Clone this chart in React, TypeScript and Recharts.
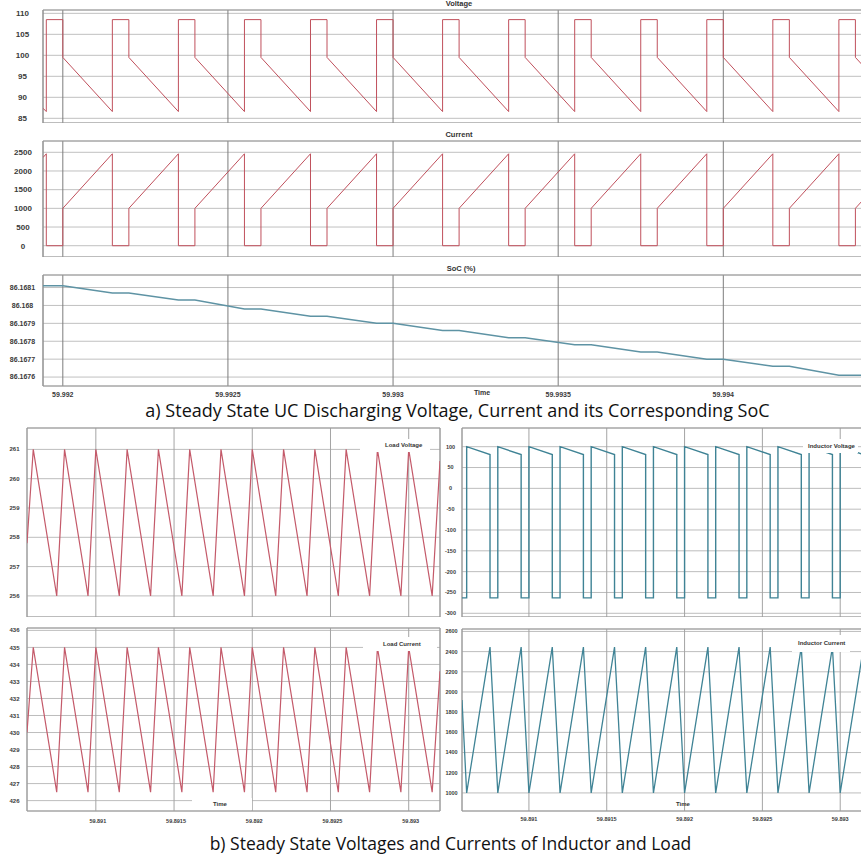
import React from "react";
import { LineChart, Line, XAxis, YAxis, CartesianGrid, ReferenceArea } from "recharts";

type Pt = [number, number];

// ---------- (a) top panels: UC discharging ----------
const topTimeTicks = [59.992, 59.9925, 59.993, 59.9935, 59.994];
const topTimeLabels = ["59.992", "59.9925", "59.993", "59.9935", "59.994"];

const voltageTicks = [85, 90, 95, 100, 105, 110];
const voltageLabels = ["85", "90", "95", "100", "105", "110"];
const voltagePoints: Pt[] = [
  [59.99194, 87.4],
  [59.99195, 86.6], [59.99195, 108.5], [59.992, 108.5], [59.992, 99.5],
  [59.99215, 86.6], [59.99215, 108.5], [59.9922, 108.5], [59.9922, 99.5],
  [59.99235, 86.6], [59.99235, 108.5], [59.9924, 108.5], [59.9924, 99.5],
  [59.99255, 86.6], [59.99255, 108.5], [59.9926, 108.5], [59.9926, 99.5],
  [59.99275, 86.6], [59.99275, 108.5], [59.9928, 108.5], [59.9928, 99.5],
  [59.99295, 86.6], [59.99295, 108.5], [59.993, 108.5], [59.993, 99.5],
  [59.99315, 86.6], [59.99315, 108.5], [59.9932, 108.5], [59.9932, 99.5],
  [59.99335, 86.6], [59.99335, 108.5], [59.9934, 108.5], [59.9934, 99.5],
  [59.99355, 86.6], [59.99355, 108.5], [59.9936, 108.5], [59.9936, 99.5],
  [59.99375, 86.6], [59.99375, 108.5], [59.9938, 108.5], [59.9938, 99.5],
  [59.99395, 86.6], [59.99395, 108.5], [59.994, 108.5], [59.994, 99.5],
  [59.99415, 86.6], [59.99415, 108.5], [59.9942, 108.5], [59.9942, 99.5],
  [59.99435, 86.6], [59.99435, 108.5], [59.9944, 108.5], [59.9944, 99.5],
  [59.99442, 97.8],
];

const currentTicks = [0, 500, 1000, 1500, 2000, 2500];
const currentLabels = ["0", "500", "1000", "1500", "2000", "2500"];
const currentPoints: Pt[] = [
  [59.99194, 2360],
  [59.99195, 2460], [59.99195, 0], [59.992, 0], [59.992, 1000],
  [59.99215, 2460], [59.99215, 0], [59.9922, 0], [59.9922, 1000],
  [59.99235, 2460], [59.99235, 0], [59.9924, 0], [59.9924, 1000],
  [59.99255, 2460], [59.99255, 0], [59.9926, 0], [59.9926, 1000],
  [59.99275, 2460], [59.99275, 0], [59.9928, 0], [59.9928, 1000],
  [59.99295, 2460], [59.99295, 0], [59.993, 0], [59.993, 1000],
  [59.99315, 2460], [59.99315, 0], [59.9932, 0], [59.9932, 1000],
  [59.99335, 2460], [59.99335, 0], [59.9934, 0], [59.9934, 1000],
  [59.99355, 2460], [59.99355, 0], [59.9936, 0], [59.9936, 1000],
  [59.99375, 2460], [59.99375, 0], [59.9938, 0], [59.9938, 1000],
  [59.99395, 2460], [59.99395, 0], [59.994, 0], [59.994, 1000],
  [59.99415, 2460], [59.99415, 0], [59.9942, 0], [59.9942, 1000],
  [59.99435, 2460], [59.99435, 0], [59.9944, 0], [59.9944, 1000],
  [59.99442, 1195],
];

const socTicks = [86.1676, 86.1677, 86.1678, 86.1679, 86.168, 86.1681];
const socLabels = ["86.1676", "86.1677", "86.1678", "86.1679", "86.168", "86.1681"];
const socPoints: Pt[] = [
  [59.99194, 86.16811], [59.992, 86.16811],
  [59.99215, 86.16807], [59.9922, 86.16807],
  [59.99235, 86.16803], [59.9924, 86.16803],
  [59.99255, 86.16798], [59.9926, 86.16798],
  [59.99275, 86.16794], [59.9928, 86.16794],
  [59.99295, 86.1679], [59.993, 86.1679],
  [59.99315, 86.16786], [59.9932, 86.16786],
  [59.99335, 86.16782], [59.9934, 86.16782],
  [59.99355, 86.16778], [59.9936, 86.16778],
  [59.99375, 86.16774], [59.9938, 86.16774],
  [59.99395, 86.1677], [59.994, 86.1677],
  [59.99415, 86.16766], [59.9942, 86.16766],
  [59.99435, 86.16761], [59.99442, 86.16761],
];

// ---------- (b) bottom panels: inductor and load ----------
const bottomTimeTicks = [59.891, 59.8915, 59.892, 59.8925, 59.893];
const bottomTimeLabels = ["59.891", "59.8915", "59.892", "59.8925", "59.893"];

const loadVoltageTicks = [256, 257, 258, 259, 260, 261];
const loadVoltageLabels = ["256", "257", "258", "259", "260", "261"];
const loadVoltagePoints: Pt[] = [
  [59.89056, 257.8],
  [59.8906, 261], [59.89075, 256], [59.8908, 261], [59.89095, 256],
  [59.891, 261], [59.89115, 256], [59.8912, 261], [59.89135, 256],
  [59.8914, 261], [59.89155, 256], [59.8916, 261], [59.89175, 256],
  [59.8918, 261], [59.89195, 256], [59.892, 261], [59.89215, 256],
  [59.8922, 261], [59.89235, 256], [59.8924, 261], [59.89255, 256],
  [59.8926, 261], [59.89275, 256], [59.8928, 261], [59.89295, 256],
  [59.893, 261], [59.89315, 256],
  [59.8932, 260.6],
];

const inductorVoltageTicks = [-300, -250, -200, -150, -100, -50, 0, 50, 100];
const inductorVoltageLabels = ["-300", "-250", "-200", "-150", "-100", "-50", "0", "50", "100"];
const inductorVoltagePoints: Pt[] = [
  [59.89057, -263], [59.8906, -263], [59.8906, 100],
  [59.89075, 81], [59.89075, -263], [59.8908, -263], [59.8908, 100],
  [59.89095, 81], [59.89095, -263], [59.891, -263], [59.891, 100],
  [59.89115, 81], [59.89115, -263], [59.8912, -263], [59.8912, 100],
  [59.89135, 81], [59.89135, -263], [59.8914, -263], [59.8914, 100],
  [59.89155, 81], [59.89155, -263], [59.8916, -263], [59.8916, 100],
  [59.89175, 81], [59.89175, -263], [59.8918, -263], [59.8918, 100],
  [59.89195, 81], [59.89195, -263], [59.892, -263], [59.892, 100],
  [59.89215, 81], [59.89215, -263], [59.8922, -263], [59.8922, 100],
  [59.89235, 81], [59.89235, -263], [59.8924, -263], [59.8924, 100],
  [59.89255, 81], [59.89255, -263], [59.8926, -263], [59.8926, 100],
  [59.89275, 81], [59.89275, -263], [59.8928, -263], [59.8928, 100],
  [59.89295, 81], [59.89295, -263], [59.893, -263], [59.893, 100],
  [59.89314, 82.3],
];

const loadCurrentTicks = [426, 427, 428, 429, 430, 431, 432, 433, 434, 435, 436];
const loadCurrentLabels = ["426", "427", "428", "429", "430", "431", "432", "433", "434", "435", "436"];
const loadCurrentPoints: Pt[] = [
  [59.89056, 430.0],
  [59.8906, 435], [59.89075, 426.5], [59.8908, 435], [59.89095, 426.5],
  [59.891, 435], [59.89115, 426.5], [59.8912, 435], [59.89135, 426.5],
  [59.8914, 435], [59.89155, 426.5], [59.8916, 435], [59.89175, 426.5],
  [59.8918, 435], [59.89195, 426.5], [59.892, 435], [59.89215, 426.5],
  [59.8922, 435], [59.89235, 426.5], [59.8924, 435], [59.89255, 426.5],
  [59.8926, 435], [59.89275, 426.5], [59.8928, 435], [59.89295, 426.5],
  [59.893, 435], [59.89315, 426.5],
  [59.8932, 433.6],
];

const inductorCurrentTicks = [1000, 1200, 1400, 1600, 1800, 2000, 2200, 2400, 2600];
const inductorCurrentLabels = ["1000", "1200", "1400", "1600", "1800", "2000", "2200", "2400", "2600"];
const inductorCurrentPoints: Pt[] = [
  [59.89057, 1920],
  [59.8906, 1000], [59.89075, 2445], [59.8908, 1000], [59.89095, 2445],
  [59.891, 1000], [59.89115, 2445], [59.8912, 1000], [59.89135, 2445],
  [59.8914, 1000], [59.89155, 2445], [59.8916, 1000], [59.89175, 2445],
  [59.8918, 1000], [59.89195, 2445], [59.892, 1000], [59.89215, 2445],
  [59.8922, 1000], [59.89235, 2445], [59.8924, 1000], [59.89255, 2445],
  [59.8926, 1000], [59.89275, 2445], [59.8928, 1000], [59.89295, 2445],
  [59.893, 1000],
  [59.89314, 2350],
];

const captionA = "a) Steady State UC Discharging Voltage, Current and its Corresponding SoC";
const captionB = "b) Steady State Voltages and Currents of Inductor and Load";

// ---------- styling ----------
const PAD = 3;
const TICK_FONT = "'Liberation Sans', Arial, sans-serif";
const CAPTION_FONT = "'Open Sans', sans-serif";
const TOP_RED = "#c0505c";
const SOC_COLOR = "#5e93a4";
const LOAD_RED = "#c45a6a";
const IND_TEAL = "#3f8395";

type PanelProps = {
  x0: number; y0: number; x1: number; y1: number;
  axisW: number; axisH: number;
  points: Pt[];
  xDomain: [number, number]; yDomain: [number, number];
  xTicks: number[]; xLabels?: string[]; xLabelCy?: number; xLabelDx?: number;
  yTicks: number[]; yLabels: string[]; yLabelCx: number;
  color: string; sw: number;
  hGrid: string; vGrid: string; frame: string;
  fs: number; xfs?: number;
};

function Panel(p: PanelProps) {
  const pw = p.x1 - p.x0;
  const ph = p.y1 - p.y0;
  const left = p.x0 - p.axisW;
  const top = p.y0 - PAD;
  const rows = p.points.map(([t, v]) => ({ t, v }));
  const yTick = (tp: any) => {
    const i = p.yTicks.indexOf(tp.payload.value);
    return (
      <text x={p.yLabelCx - left} y={tp.y} dy="0.35em" textAnchor="middle" fontSize={p.fs}
        fontWeight="bold" fill="#3a3a3a" fontFamily={TICK_FONT}>
        {i >= 0 ? p.yLabels[i] : ""}
      </text>
    );
  };
  const xTick = (tp: any) => {
    if (!p.xLabels) return <g />;
    const i = p.xTicks.indexOf(tp.payload.value);
    return (
      <text x={tp.x + (p.xLabelDx || 0)} y={(p.xLabelCy || 0) - top} dy="0.35em" textAnchor="middle"
        fontSize={p.xfs || p.fs} fontWeight="bold" fill="#3a3a3a" fontFamily={TICK_FONT}>
        {i >= 0 ? p.xLabels[i] : ""}
      </text>
    );
  };
  return (
    <div style={{ position: "absolute", left, top }}>
      <LineChart width={p.axisW + pw + PAD} height={PAD + ph + p.axisH} data={rows}
        margin={{ top: PAD, right: PAD, bottom: 0, left: 0 }}>
        <CartesianGrid horizontal={true} vertical={false} stroke={p.hGrid} strokeWidth={1} />
        <CartesianGrid horizontal={false} vertical={true} stroke={p.vGrid} strokeWidth={1} />
        <XAxis dataKey="t" type="number" domain={p.xDomain} ticks={p.xTicks} allowDataOverflow
          interval={0} height={p.axisH} axisLine={false} tickLine={false} tick={xTick} />
        <YAxis type="number" domain={p.yDomain} ticks={p.yTicks} allowDataOverflow interval={0}
          width={p.axisW} axisLine={false} tickLine={false} tick={yTick} />
        <ReferenceArea x1={p.xDomain[0]} x2={p.xDomain[1]} y1={p.yDomain[0]} y2={p.yDomain[1]}
          fill="#ffffff" fillOpacity={0} stroke={p.frame} strokeWidth={1} ifOverflow="visible" />
        <Line dataKey="v" type="linear" stroke={p.color} strokeWidth={p.sw} dot={false}
          isAnimationActive={false} />
      </LineChart>
    </div>
  );
}

function Label(props: { x: number; y: number; w: number; h: number; text: string; tx: number; fs?: number }) {
  return (
    <div style={{
      position: "absolute", left: props.x, top: props.y, width: props.w, height: props.h,
      background: "#ffffff",
    }}>
      <div style={{
        position: "absolute", left: props.tx - props.x, top: 0, height: props.h, lineHeight: props.h + "px",
        fontFamily: TICK_FONT, fontWeight: "bold", fontSize: props.fs || 6, color: "#333", whiteSpace: "nowrap",
      }}>{props.text}</div>
    </div>
  );
}

function Title(props: { cx: number; cy: number; text: string; fs?: number }) {
  return (
    <div style={{
      position: "absolute", left: props.cx - 60, top: props.cy - 6, width: 120, height: 12, lineHeight: "12px",
      textAlign: "center", fontFamily: TICK_FONT, fontWeight: "bold", fontSize: props.fs || 7.5, color: "#333",
    }}>{props.text}</div>
  );
}

export default function App() {
  const topX: [number, number] = [59.99194, 59.99442];
  const botX: [number, number] = [59.89056, 59.8932];
  const botXR: [number, number] = [59.89057, 59.89314];
  const topGrid = { hGrid: "#c0c0c0", vGrid: "#7c7c7c", frame: "#9a9a9a" };
  const botGrid = { hGrid: "#bdbdbd", vGrid: "#a4a4a4", frame: "#9a9a9a" };
  return (
    <div style={{ position: "absolute", left: 0, top: 0, width: 861, height: 858, overflow: "hidden", background: "#ffffff" }}>
      {/* Voltage */}
      <Panel x0={43} y0={10} x1={862} y1={123} axisW={43} axisH={0} points={voltagePoints}
        xDomain={topX} yDomain={[83.88, 110.79]} xTicks={topTimeTicks}
        yTicks={voltageTicks} yLabels={voltageLabels} yLabelCx={22.5}
        color={TOP_RED} sw={1} {...topGrid} fs={8} />
      {/* Current */}
      <Panel x0={43} y0={141} x1={862} y1={257} axisW={43} axisH={0} points={currentPoints}
        xDomain={topX} yDomain={[-302, 2802]} xTicks={topTimeTicks}
        yTicks={currentTicks} yLabels={currentLabels} yLabelCx={23}
        color={TOP_RED} sw={1} {...topGrid} fs={8} />
      {/* SoC */}
      <Panel x0={43} y0={275} x1={862} y1={386} axisW={43} axisH={16} points={socPoints}
        xDomain={topX} yDomain={[86.16755, 86.16817]} xTicks={topTimeTicks}
        xLabels={topTimeLabels} xLabelCy={395}
        yTicks={socTicks} yLabels={socLabels} yLabelCx={22.5}
        color={SOC_COLOR} sw={1.5} {...topGrid} fs={7} />
      <Title cx={459} cy={4} text="Voltage" />
      <Title cx={459} cy={135} text="Current" />
      <Title cx={461} cy={269} text="SoC (%)" />
      <Title cx={482} cy={393} text="Time" fs={7} />

      <div style={{
        position: "absolute", left: 27, top: 397, width: 861, textAlign: "center",
        fontFamily: CAPTION_FONT, fontSize: 18, lineHeight: "26px", color: "#111", whiteSpace: "nowrap",
      }}>{captionA}</div>

      {/* Load voltage */}
      <Panel x0={27} y0={428} x1={440} y1={617} axisW={27} axisH={0} points={loadVoltagePoints}
        xDomain={botX} yDomain={[255.28, 261.73]} xTicks={bottomTimeTicks}
        yTicks={loadVoltageTicks} yLabels={loadVoltageLabels} yLabelCx={14.5}
        color={LOAD_RED} sw={1.2} {...botGrid} fs={6} />
      {/* Inductor voltage */}
      <Panel x0={462} y0={428} x1={862} y1={617} axisW={30} axisH={0} points={inductorVoltagePoints}
        xDomain={botXR} yDomain={[-308.9, 144.9]} xTicks={bottomTimeTicks}
        yTicks={inductorVoltageTicks} yLabels={inductorVoltageLabels} yLabelCx={450.5}
        color={IND_TEAL} sw={1.4} {...botGrid} fs={5.5} />
      {/* Load current */}
      <Panel x0={27} y0={628} x1={440} y1={811} axisW={27} axisH={18} points={loadCurrentPoints}
        xDomain={botX} yDomain={[425.39, 436.14]} xTicks={bottomTimeTicks}
        xLabels={bottomTimeLabels} xLabelCy={821} xLabelDx={2}
        yTicks={loadCurrentTicks} yLabels={loadCurrentLabels} yLabelCx={14.5}
        color={LOAD_RED} sw={1.2} {...botGrid} fs={6} xfs={5.5} />
      {/* Inductor current */}
      <Panel x0={462} y0={629} x1={862} y1={811} axisW={30} axisH={18} points={inductorCurrentPoints}
        xDomain={botXR} yDomain={[821, 2624]} xTicks={bottomTimeTicks}
        xLabels={bottomTimeLabels} xLabelCy={819}
        yTicks={inductorCurrentTicks} yLabels={inductorCurrentLabels} yLabelCx={451.5}
        color={IND_TEAL} sw={1.3} {...botGrid} fs={5.5} xfs={5.5} />

      <Label x={360} y={439} w={70} h={12.5} tx={385} text="Load Voltage" />
      <Label x={803} y={439} w={55} h={14} tx={808} text="Inductor Voltage" />
      <Label x={363} y={637} w={74} h={14} tx={383} text="Load Current" />
      <Label x={792} y={635} w={58} h={16.5} tx={798} text="Inductor Current" />
      <Label x={192} y={798} w={60} h={12} tx={213} text="Time" />
      <Title cx={683} cy={803.5} text="Time" fs={6} />

      <div style={{
        position: "absolute", left: 20, top: 830, width: 861, textAlign: "center",
        fontFamily: CAPTION_FONT, fontSize: 17.5, lineHeight: "26px", color: "#111", whiteSpace: "nowrap",
      }}>{captionB}</div>
    </div>
  );
}
